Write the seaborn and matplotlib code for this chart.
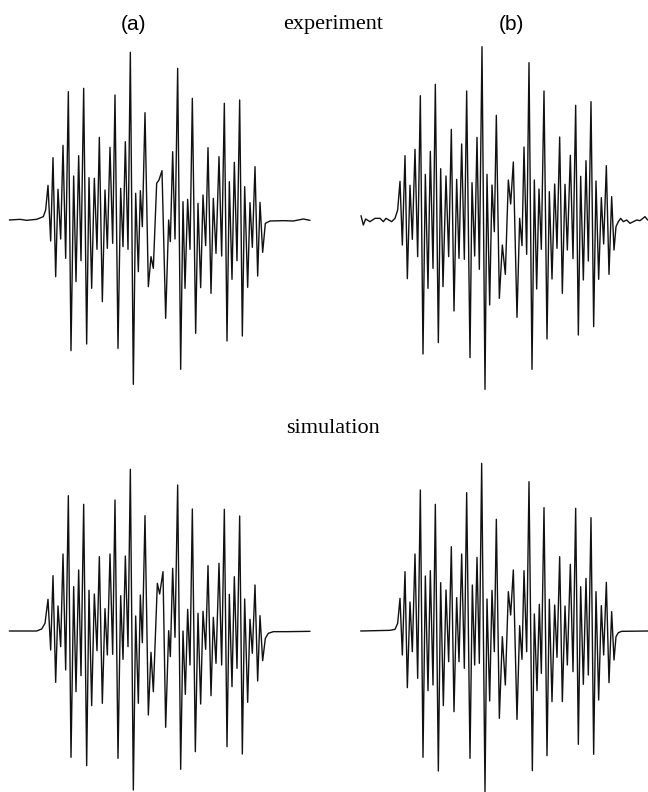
# EPR spectra: experiment (top) and simulation (bottom), panels (a) and (b)
import numpy as np
import pandas as pd
import seaborn as sns
import matplotlib
matplotlib.use("Agg")
import matplotlib.pyplot as plt

# values, 3 units = 1 pixel, the extrema of each trace
# x is split in two runs, second run has its own start
a_exp_x1 = [28, 60, 80, 110, 130, 137, 144, 152, 159, 167, 174, 182, 189, 197, 205, 213, 221, 228, 236, 243, 251, 260, 267, 275, 283, 291, 298, 307, 315, 322, 330, 338, 345, 354, 362, 369, 376, 384, 391, 400, 407, 415, 421, 427, 435, 445, 453, 460, 470, 477, 486, 497, 506]
a_exp_y1 = [540, 538, 541, 538, 530, 510, 436, 603, 353, 710, 448, 597, 316, 655, 155, 932, 408, 725, 347, 662, 145, 912, 413, 745, 415, 628, 292, 785, 450, 625, 322, 610, 165, 925, 445, 620, 305, 628, 37, 1033, 460, 695, 452, 560, 218, 740, 650, 685, 430, 420, 392, 835, 540]
a_exp_x2 = [31, 38, 45, 53, 62, 69, 75, 83, 90, 97, 107, 114, 122, 129, 137, 144, 153, 160, 168, 177, 185, 193, 201, 208, 216, 223, 231, 239, 247, 254, 263, 270, 277, 285, 293, 300, 308, 316, 330, 370, 400, 430, 450]
a_exp_y2 = [605, 335, 597, 85, 988, 485, 745, 478, 628, 175, 880, 490, 743, 465, 617, 323, 760, 475, 640, 350, 648, 190, 903, 425, 718, 367, 662, 180, 888, 440, 742, 488, 622, 380, 708, 487, 637, 550, 543, 542, 543, 537, 541]

b_exp_x1 = [33, 40, 47, 60, 75, 90, 100, 108, 125, 135, 143, 150, 157, 165, 172, 180, 187, 195, 203, 211, 219, 226, 234, 241, 249, 256, 265, 272, 279, 288, 296, 304, 312, 320, 327, 335, 343, 350, 360, 366, 374, 381, 388, 396, 405, 411, 419, 426, 433, 439, 448]
b_exp_y1 = [527, 555, 537, 545, 535, 535, 545, 535, 545, 535, 510, 424, 615, 347, 716, 436, 598, 328, 650, 167, 942, 403, 745, 334, 685, 133, 908, 386, 740, 408, 650, 268, 813, 418, 655, 312, 658, 153, 953, 428, 648, 292, 688, 20, 1048, 403, 795, 435, 575, 226, 775]
b_exp_x2 = [37, 46, 55, 62, 70, 81, 89, 96, 102, 110, 117, 126, 133, 140, 147, 154, 162, 171, 178, 186, 194, 201, 209, 217, 225, 232, 241, 249, 257, 265, 272, 280, 288, 295, 303, 311, 318, 326, 334, 341, 349, 357, 365, 372, 378, 385, 392, 400, 410, 420, 430, 440, 450, 465, 473]
b_exp_y2 = [615, 703, 420, 492, 366, 832, 535, 617, 321, 643, 68, 988, 420, 747, 447, 628, 153, 897, 455, 717, 432, 625, 291, 760, 433, 630, 346, 656, 196, 885, 409, 720, 362, 663, 185, 860, 423, 718, 473, 612, 377, 703, 470, 630, 560, 545, 535, 545, 540, 550, 545, 540, 542, 530, 540]

a_sim_x1 = [28, 110, 125, 135, 144, 152, 159, 167, 174, 182, 189, 197, 205, 213, 221, 228, 236, 243, 251, 260, 267, 275, 283, 291, 298, 307, 315, 322, 330, 338, 345, 354, 362, 369, 376, 384, 391, 400, 407, 415, 421, 427, 435, 445, 453, 460, 472, 479, 489, 497, 506]
a_sim_y1 = [543, 543, 537, 520, 448, 600, 377, 697, 468, 590, 312, 660, 137, 922, 410, 725, 360, 677, 163, 947, 421, 767, 432, 602, 320, 760, 476, 615, 312, 613, 150, 925, 437, 628, 318, 590, 58, 1020, 498, 760, 435, 578, 197, 795, 607, 725, 400, 432, 365, 832, 542]
a_sim_x2 = [31, 38, 45, 53, 62, 69, 76, 83, 90, 97, 106, 114, 122, 129, 137, 144, 153, 160, 168, 177, 185, 193, 201, 208, 216, 223, 231, 239, 247, 254, 263, 270, 277, 285, 293, 300, 308, 316, 325, 340, 380, 450]
a_sim_y2 = [620, 355, 562, 105, 958, 543, 733, 478, 645, 177, 905, 490, 762, 484, 598, 347, 737, 502, 640, 340, 645, 178, 890, 433, 710, 380, 655, 198, 912, 447, 757, 508, 610, 405, 693, 497, 632, 565, 550, 545, 545, 544]

b_sim_x1 = [32, 120, 135, 143, 150, 157, 165, 172, 180, 187, 195, 203, 211, 219, 226, 234, 241, 249, 256, 265, 272, 280, 288, 296, 304, 312, 320, 327, 335, 343, 350, 360, 367, 374, 381, 388, 395, 405, 411, 419, 426, 433, 439, 448]
b_sim_y1 = [543, 541, 538, 520, 445, 615, 365, 713, 456, 605, 312, 685, 120, 922, 378, 722, 362, 705, 163, 963, 398, 767, 420, 635, 290, 785, 443, 635, 312, 655, 128, 925, 405, 645, 322, 640, 40, 1025, 447, 753, 421, 605, 208, 805]
b_sim_x2 = [37, 46, 55, 62, 70, 81, 89, 96, 102, 110, 117, 127, 133, 141, 148, 154, 162, 171, 178, 186, 194, 201, 209, 217, 225, 232, 241, 249, 257, 265, 272, 280, 288, 295, 303, 311, 318, 326, 334, 341, 349, 357, 365, 372, 378, 385, 395, 474]
b_sim_y2 = [560, 705, 425, 495, 360, 808, 527, 628, 362, 605, 95, 962, 492, 722, 463, 670, 173, 917, 448, 755, 465, 622, 320, 755, 468, 645, 343, 665, 175, 883, 410, 703, 385, 675, 203, 913, 425, 750, 467, 615, 397, 698, 485, 630, 560, 548, 544, 543]

W, H = 648, 792

sns.set_style("white")
fig = plt.figure(figsize=(6.48, 7.92), dpi=100)


def trace(box, x1, y1, x2, y2, x0, x_step, base):
    # box is left, top, width, height in pixels
    left, top, width, height = box
    ax = fig.add_axes([left / W, 1 - (top + height) / H, width / W, height / H])
    df = pd.DataFrame({
        "field": np.r_[x1, np.array(x2) + x_step] / 3 + x0 - left,
        "signal": (base - np.r_[y1, y2]) / 3,
    })
    sns.lineplot(data=df, x="field", y="signal", color="#111111", linewidth=1.0,
                 estimator=None, sort=False, ax=ax)
    ax.set_xlim(0, width)
    mid = top + base / 3
    ax.set_ylim(mid - (top + height), mid - top)
    ax.axis("off")


trace((0, 40, 324, 360), a_exp_x1, a_exp_y1, a_exp_x2, a_exp_y2, 0, 480, 540)
trace((324, 40, 324, 360), b_exp_x1, b_exp_y1, b_exp_x2, b_exp_y2, 350, 420, 540)
trace((0, 450, 324, 342), a_sim_x1, a_sim_y1, a_sim_x2, a_sim_y2, 0, 480, 543)
trace((324, 450, 324, 342), b_sim_x1, b_sim_y1, b_sim_x2, b_sim_y2, 350, 420, 543)

fig.text(134 / W, 1 - 24 / H, "(a)", family="Liberation Sans", fontsize=15, color="black", ha="center", va="center")
fig.text(333 / W, 1 - 25 / H, "experiment", family="Liberation Serif", fontsize=16, color="black", ha="center", va="center")
fig.text(511 / W, 1 - 24 / H, "(b)", family="Liberation Sans", fontsize=15, color="black", ha="center", va="center")
fig.text(333 / W, 1 - 429 / H, "simulation", family="Liberation Serif", fontsize=16, color="black", ha="center", va="center")

fig.savefig("out.png", dpi=100)
